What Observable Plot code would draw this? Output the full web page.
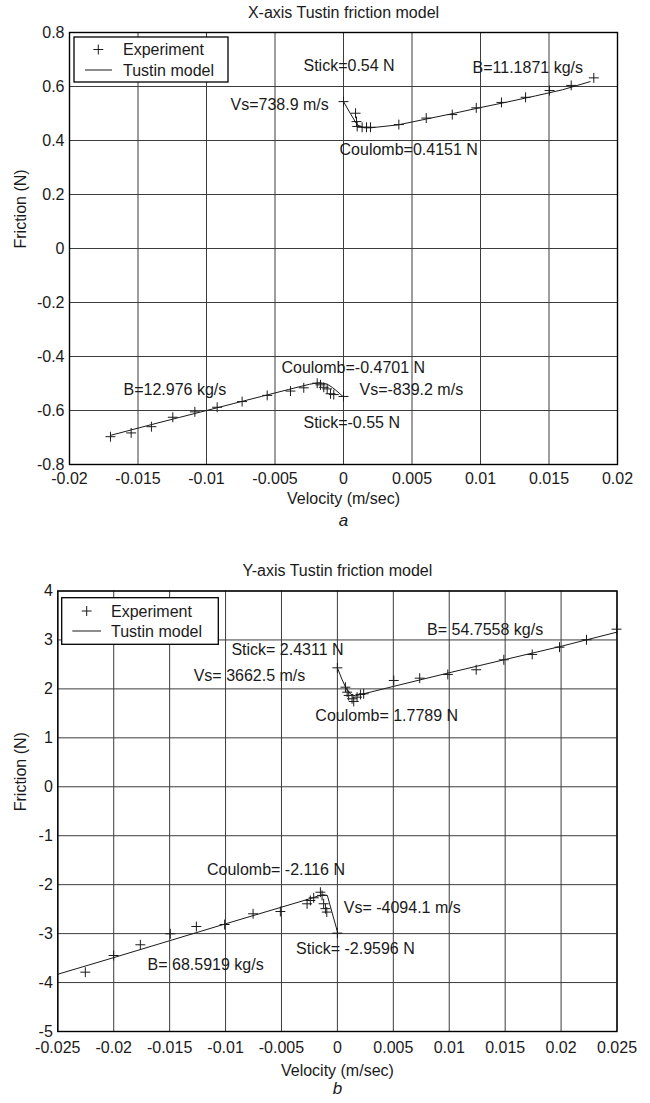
<!DOCTYPE html>
<html><head><meta charset="utf-8">
<script src="https://cdn.jsdelivr.net/npm/d3@7"></script>
<script src="https://cdn.jsdelivr.net/npm/@observablehq/plot@0.6"></script>
<style>
body{margin:0;background:#fff;}
#chart{width:650px;}
svg{display:block;}
</style></head><body><div id="chart"></div>
<script>
// ---------- Chart a: X-axis ----------
const aTitle = "X-axis Tustin friction model";
const aCaption = "a";
const aXTicks = [-0.02, -0.015, -0.01, -0.005, 0, 0.005, 0.01, 0.015, 0.02];
const aYTicks = [-0.8, -0.6, -0.4, -0.2, 0, 0.2, 0.4, 0.6, 0.8];
const aExpVel = [0, 0.00088, 0.00095, 0.001, 0.00136, 0.00168, 0.00197, 0.00404, 0.00604, 0.00794, 0.00969, 0.01153, 0.01329, 0.01504, 0.01662, 0.01827,
  -0.01701, -0.0155, -0.01402, -0.01246, -0.01085, -0.00922, -0.0074, -0.00557, -0.00387, -0.0029, -0.00192, -0.00168, -0.00144, -0.00119, -0.00095, -0.00071, 0];
const aExpF = [0.544, 0.501, 0.47, 0.452, 0.449, 0.449, 0.449, 0.459, 0.483, 0.496, 0.521, 0.541, 0.56, 0.585, 0.604, 0.632,
  -0.697, -0.683, -0.66, -0.625, -0.605, -0.588, -0.567, -0.544, -0.528, -0.516, -0.499, -0.505, -0.514, -0.52, -0.538, -0.541, -0.548];
const aPosModelVel = [0, 0.0005, 0.001, 0.0015, 0.002, 0.004, 0.006, 0.008, 0.010, 0.012, 0.014, 0.016, 0.018];
const aPosModelF = [0.544, 0.50, 0.458, 0.447, 0.447, 0.458, 0.479, 0.500, 0.522, 0.543, 0.565, 0.588, 0.618];
const aNegModelVel = [-0.017, -0.014, -0.012, -0.010, -0.008, -0.006, -0.004, -0.0025, -0.0018, -0.0012, -0.0008, -0.0004, 0];
const aNegModelF = [-0.692, -0.652, -0.626, -0.600, -0.574, -0.548, -0.522, -0.503, -0.497, -0.502, -0.515, -0.532, -0.55];
const aNoteText = ["Stick=0.54 N", "B=11.1871 kg/s", "Vs=738.9 m/s", "Coulomb=0.4151 N", "Coulomb=-0.4701 N", "Vs=-839.2 m/s", "B=12.976 kg/s", "Stick=-0.55 N"];
const aNoteVel = [-0.00292, 0.00942, -0.00825, -0.00029, -0.00453, 0.00117, -0.01606, -0.00292];
const aNoteF = [0.678, 0.668, 0.533, 0.367, -0.443, -0.523, -0.523, -0.647];

// ---------- Chart b: Y-axis ----------
const bTitle = "Y-axis Tustin friction model";
const bCaption = "b";
const bXTicks = [-0.025, -0.02, -0.015, -0.01, -0.005, 0, 0.005, 0.01, 0.015, 0.02, 0.025];
const bYTicks = [-5, -4, -3, -2, -1, 0, 1, 2, 3, 4];
const bExpVel = [0, 0.00072, 0.00087, 0.00101, 0.00131, 0.00146, 0.00176, 0.00206, 0.00235, 0.00504, 0.00736, 0.00987, 0.01241, 0.01488, 0.01742, 0.01986, 0.02227, 0.02496,
  -0.02254, -0.02001, -0.01762, -0.01494, -0.01261, -0.01008, -0.00754, -0.0051, -0.00271, -0.00242, -0.00212, -0.00152, -0.00137, -0.00123, -0.00107, -0.00095, 0];
const bExpF = [2.43, 2.035, 1.933, 1.866, 1.798, 1.743, 1.831, 1.886, 1.90, 2.172, 2.219, 2.295, 2.391, 2.595, 2.703, 2.852, 3.004, 3.22,
  -3.788, -3.447, -3.228, -3.004, -2.855, -2.814, -2.595, -2.548, -2.391, -2.323, -2.268, -2.154, -2.22, -2.39, -2.49, -2.56, -2.99];
const bPosModelVel = [0, 0.0004, 0.0008, 0.0012, 0.0016, 0.002, 0.005, 0.01, 0.015, 0.02, 0.025];
const bPosModelF = [2.43, 2.2, 2.0, 1.89, 1.86, 1.88, 2.05, 2.33, 2.60, 2.87, 3.16];
const bNegModelVel = [-0.025, -0.02, -0.015, -0.01, -0.005, -0.0025, -0.0017, -0.0013, -0.0009, -0.0005, 0];
const bNegModelF = [-3.83, -3.49, -3.145, -2.80, -2.46, -2.29, -2.23, -2.205, -2.22, -2.55, -2.96];
const bNoteText = ["Stick= 2.4311 N", "Vs= 3662.5 m/s", "B= 54.7558 kg/s", "Coulomb= 1.7789 N", "Coulomb= -2.116 N", "Vs= -4094.1 m/s", "Stick= -2.9596 N", "B= 68.5919 kg/s"];
const bNoteVel = [-0.00948, -0.01285, 0.00802, -0.00197, -0.01166, 0.00057, -0.0037, -0.01697];
const bNoteF = [2.80, 2.274, 3.208, 1.457, -1.696, -2.472, -3.31, -3.63];

const legendLabels = ["Experiment", "Tustin model"];
const xLabel = "Velocity (m/sec)";
const yLabel = "Friction (N)";

const FONT = "Liberation Sans, Arial, Helvetica, sans-serif";
const INK = "#1a1a1a";
const zip = (xs, ys) => xs.map((x, i) => ({v: x, f: ys[i]}));
const fmt = d => Math.abs(d) < 1e-12 ? "0" : String(+d.toFixed(4));

function makeChart(c) {
  const notes = c.noteText.map((t, i) => ({t, v: c.noteVel[i], f: c.noteF[i]}));
  const plot = Plot.plot({
    width: 650, height: c.height,
    marginTop: c.mt, marginBottom: c.mb, marginLeft: c.ml, marginRight: c.mr,
    style: {fontFamily: FONT, fontSize: "16px", color: INK, background: "white", overflow: "visible"},
    x: {domain: c.xDomain},
    y: {domain: c.yDomain},
    marks: [
      Plot.gridX(c.xTicks, {stroke: "#3c3c3c", strokeOpacity: 1, strokeWidth: 1}),
      Plot.gridY(c.yTicks, {stroke: "#3c3c3c", strokeOpacity: 1, strokeWidth: 1}),
      Plot.frame({stroke: "#000", strokeWidth: 1.4}),
      Plot.axisX(c.xTicks, {tickSize: 0, tickPadding: c.xPad, tickFormat: fmt, label: null, fontSize: 16}),
      Plot.axisY(c.yTicks, {tickSize: 0, tickPadding: 5, tickFormat: fmt, label: null, fontSize: 16}),
      Plot.line(zip(c.posMV, c.posMF), {x: "v", y: "f", stroke: INK, strokeWidth: 1}),
      Plot.line(zip(c.negMV, c.negMF), {x: "v", y: "f", stroke: INK, strokeWidth: 1}),
      Plot.dot(zip(c.expV, c.expF), {x: "v", y: "f", symbol: "plus", r: 3.3, stroke: INK, strokeWidth: 1}),
      Plot.text(notes, {x: "v", y: "f", text: "t", textAnchor: "start", fontSize: 16, fill: INK}),
      Plot.text([c.title], {frameAnchor: "top", lineAnchor: "middle", dy: -20, fontSize: 16, fill: INK}),
      Plot.text([xLabel], {frameAnchor: "bottom", lineAnchor: "middle", dy: c.xlabDy, fontSize: 16, fill: INK}),
      Plot.text([c.caption], {frameAnchor: "bottom", lineAnchor: "middle", dy: c.capDy, fontSize: 17, fontStyle: "italic", fill: INK}),
      Plot.text([yLabel], {frameAnchor: "left", lineAnchor: "middle", rotate: -90, dx: c.ylabDx, fontSize: 16, fill: INK})
    ]
  });
  // legend box
  const L = c.legend;
  const g = d3.select(plot).append("g").attr("font-family", FONT).attr("font-size", 16)
    .attr("fill", INK).attr("text-anchor", "start");
  g.append("rect").attr("x", L.x).attr("y", L.y).attr("width", L.w).attr("height", L.h)
    .attr("fill", "white").attr("stroke", "#000").attr("stroke-width", 1.3);
  g.append("path").attr("d", d3.symbol(d3.symbolPlus, Math.PI * 3.3 * 3.3)())
    .attr("transform", `translate(${L.symX},${L.row1})`).attr("fill", "none").attr("stroke", INK);
  g.append("line").attr("x1", L.lineX1).attr("x2", L.lineX2).attr("y1", L.row2).attr("y2", L.row2)
    .attr("stroke", INK).attr("stroke-width", 1);
  g.append("text").attr("x", L.textX).attr("y", L.row1).attr("dy", "0.35em").attr("text-anchor", "start").text(legendLabels[0]);
  g.append("text").attr("x", L.textX).attr("y", L.row2).attr("dy", "0.35em").attr("text-anchor", "start").text(legendLabels[1]);
  return plot;
}

const root = document.getElementById("chart");
root.appendChild(makeChart({
  height: 545, mt: 32, mb: 81, ml: 69, mr: 33, xPad: 8,
  xDomain: [-0.02, 0.02], yDomain: [-0.8, 0.8], xTicks: aXTicks, yTicks: aYTicks,
  expV: aExpVel, expF: aExpF, posMV: aPosModelVel, posMF: aPosModelF, negMV: aNegModelVel, negMF: aNegModelF,
  noteText: aNoteText, noteVel: aNoteVel, noteF: aNoteF,
  title: aTitle, caption: aCaption, xlabDy: 34, capDy: 56, ylabDx: -49,
  legend: {x: 74, y: 37, w: 154, h: 45, symX: 98.3, row1: 49.5, row2: 70, lineX1: 85, lineX2: 112, textX: 123}
}));
root.appendChild(makeChart({
  height: 558, mt: 45.5, mb: 72, ml: 57.3, mr: 33.5, xPad: 10,
  xDomain: [-0.025, 0.025], yDomain: [-5, 4], xTicks: bXTicks, yTicks: bYTicks,
  expV: bExpVel, expF: bExpF, posMV: bPosModelVel, posMF: bPosModelF, negMV: bNegModelVel, negMF: bNegModelF,
  noteText: bNoteText, noteVel: bNoteVel, noteF: bNoteF,
  title: bTitle, caption: bCaption, xlabDy: 39, capDy: 57, ylabDx: -37,
  legend: {x: 61.7, y: 52.7, w: 156.6, h: 46.6, symX: 86.7, row1: 66, row2: 86, lineX1: 72.3, lineX2: 101, textX: 111}
}));
</script></body></html>
